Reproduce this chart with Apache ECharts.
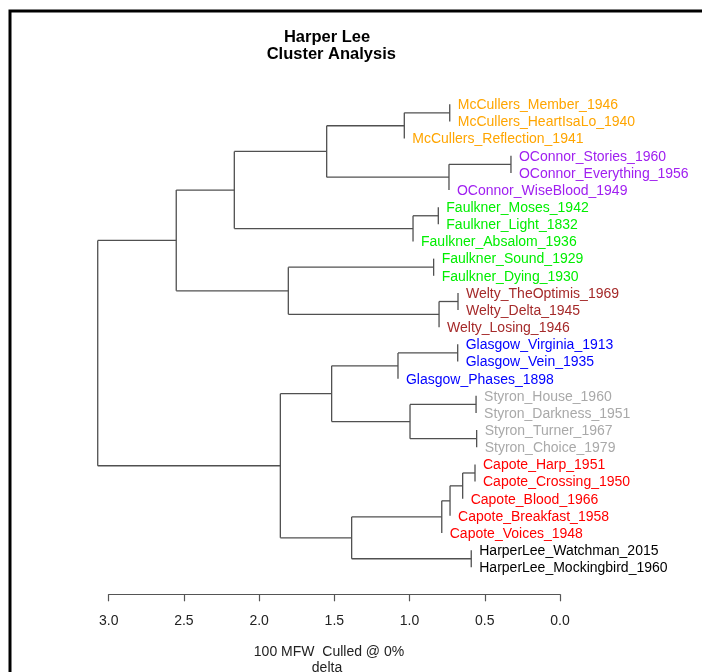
<!DOCTYPE html>
<html>
<head>
<meta charset="utf-8">
<script src="https://cdn.jsdelivr.net/npm/echarts@6/dist/echarts.min.js"></script>
<style>
html,body{margin:0;padding:0;background:#fff;}
#chart{width:702px;height:672px;}
</style>
</head>
<body>
<div id="chart"></div>
<script>
// ---- data ----
const leafLabels = [
  'McCullers_Member_1946', 'McCullers_HeartIsaLo_1940', 'McCullers_Reflection_1941',
  'OConnor_Stories_1960', 'OConnor_Everything_1956', 'OConnor_WiseBlood_1949',
  'Faulkner_Moses_1942', 'Faulkner_Light_1832', 'Faulkner_Absalom_1936',
  'Faulkner_Sound_1929', 'Faulkner_Dying_1930',
  'Welty_TheOptimis_1969', 'Welty_Delta_1945', 'Welty_Losing_1946',
  'Glasgow_Virginia_1913', 'Glasgow_Vein_1935', 'Glasgow_Phases_1898',
  'Styron_House_1960', 'Styron_Darkness_1951', 'Styron_Turner_1967', 'Styron_Choice_1979',
  'Capote_Harp_1951', 'Capote_Crossing_1950', 'Capote_Blood_1966', 'Capote_Breakfast_1958', 'Capote_Voices_1948',
  'HarperLee_Watchman_2015', 'HarperLee_Mockingbird_1960'
];
// hclust-style merges: negative = leaf (1-based), positive = earlier merge (1-based)
const mergePairs = [
  [-4, -5], [-20, -21], [-18, -19], [-22, -23], [-27, -28],
  [4, -24], [-12, -13], [-15, -16], [6, -25], [-1, -2],
  [1, -6], [9, -26], [7, -14], [-7, -8], [-10, -11],
  [14, -9], [3, 2], [10, -3], [8, -17], [12, 5],
  [19, 17], [18, 11], [15, 13], [21, 20], [22, 16],
  [25, 23], [26, 24]
];
const mergeHeights = [
  0.326, 0.554, 0.558, 0.565, 0.590,
  0.647, 0.678, 0.680, 0.731, 0.733,
  0.738, 0.786, 0.804, 0.809, 0.840,
  0.977, 0.997, 1.035, 1.077, 1.385,
  1.518, 1.551, 1.806, 1.859, 2.165,
  2.551, 3.073
];
const axisMin = 0, axisMax = 3, axisStep = 0.5;
const titleLines = ['Harper Lee', 'Cluster Analysis'];
const xTitleLines = ['100 MFW  Culled @ 0%', 'delta'];

// ---- style ----
const authorColors = {
  McCullers: '#FFA500', OConnor: '#A020F0', Faulkner: '#00EE00', Welty: '#A52A2A',
  Glasgow: '#0000FF', Styron: '#A9A9A9', Capote: '#FF0000', HarperLee: '#000000'
};
const FONT = '"Liberation Sans", Arial, sans-serif';
const branchColor = '#505050';

// ---- derived layout in data units ----
const nodeY = [];
function childY(c) { return c < 0 ? (-c - 1) : nodeY[c - 1]; }
mergePairs.forEach((p, i) => { nodeY[i] = (childY(p[0]) + childY(p[1])) / 2; });
const leafTipH = new Array(leafLabels.length).fill(0);
mergePairs.forEach((p, i) => p.forEach(c => { if (c < 0) leafTipH[-c - 1] = mergeHeights[i]; }));

const chart = echarts.init(document.getElementById('chart'), null, {renderer: 'canvas'});
chart.setOption({
  backgroundColor: '#fff',
  animation: false,
  grid: {left: 108.7, top: 104.3, width: 451.3, height: 463},
  xAxis: {
    type: 'value', position: 'bottom', min: axisMin, max: axisMax, interval: axisStep, inverse: true,
    offset: 27,
    axisLine: {show: true, onZero: false, lineStyle: {color: '#555', width: 1.2}},
    axisTick: {show: true, length: 7, lineStyle: {color: '#555', width: 1.2}},
    axisLabel: {formatter: v => v.toFixed(1), margin: 20, fontSize: 14, color: '#222', fontFamily: FONT},
    splitLine: {show: false}
  },
  yAxis: {type: 'value', min: 0, max: leafLabels.length - 1, inverse: true, show: false},
  graphic: [
    {type: 'rect', shape: {x: 10, y: 11, width: 900, height: 900}, style: {fill: 'none', stroke: '#000', lineWidth: 3}, silent: true},
    {type: 'text', x: 327, y: 37, style: {text: titleLines[0], font: 'bold 16.5px ' + FONT, fill: '#000', align: 'center', verticalAlign: 'middle'}},
    {type: 'text', x: 331.3, y: 54.3, style: {text: titleLines[1], font: 'bold 16.5px ' + FONT, fill: '#000', align: 'center', verticalAlign: 'middle'}},
    {type: 'text', x: 329, y: 652.5, style: {text: xTitleLines[0], font: '14px ' + FONT, fill: '#222', align: 'center', verticalAlign: 'middle'}},
    {type: 'text', x: 327, y: 668.3, style: {text: xTitleLines[1], font: '14px ' + FONT, fill: '#222', align: 'center', verticalAlign: 'middle'}}
  ],
  series: [
    {
      type: 'custom', clip: false,
      data: mergePairs.map((p, i) => [mergeHeights[i], nodeY[i]]),
      encode: {x: 0, y: 1},
      renderItem: function (params, api) {
        const i = params.dataIndex;
        const h = mergeHeights[i];
        const p = mergePairs[i];
        const a = api.coord([h, childY(p[0])]);
        const b = api.coord([h, childY(p[1])]);
        const st = {stroke: branchColor, lineWidth: 1.3};
        const kids = [{type: 'line', shape: {x1: a[0], y1: a[1], x2: b[0], y2: b[1]}, style: st}];
        p.forEach(c => {
          if (c > 0) {
            const s = api.coord([h, nodeY[c - 1]]);
            const e = api.coord([mergeHeights[c - 1], nodeY[c - 1]]);
            kids.push({type: 'line', shape: {x1: s[0], y1: s[1], x2: e[0], y2: e[1]}, style: st});
          }
        });
        return {type: 'group', children: kids};
      }
    },
    {
      type: 'custom', clip: false,
      data: leafLabels.map((l, i) => [leafTipH[i], i]),
      encode: {x: 0, y: 1},
      renderItem: function (params, api) {
        const i = params.dataIndex;
        const pt = api.coord([leafTipH[i], i]);
        const author = leafLabels[i].split('_')[0];
        return {
          type: 'text', x: pt[0] + 8, y: pt[1] + 1,
          style: {text: leafLabels[i], font: '14px ' + FONT, fill: authorColors[author], align: 'left', verticalAlign: 'middle'}
        };
      }
    }
  ]
});
</script>
</body>
</html>
